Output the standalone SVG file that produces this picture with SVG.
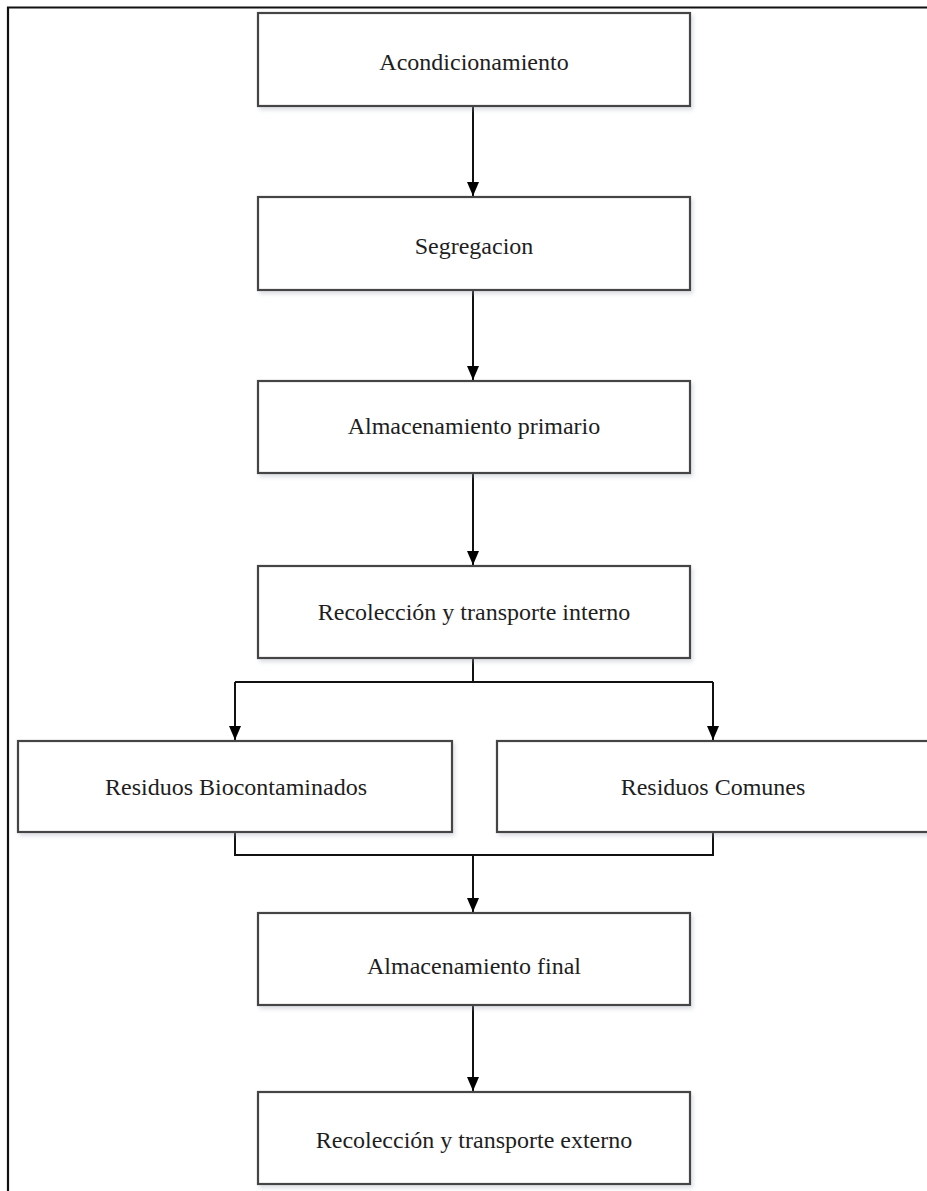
<svg xmlns="http://www.w3.org/2000/svg" width="927" height="1191" viewBox="0 0 927 1191">
<defs>
<style>
.box{fill:#fff;stroke:#444;stroke-width:2.2;filter:url(#sh)}
.lbl{font-family:"Liberation Serif","Times New Roman",serif;font-size:24px;fill:#1e1e1e;text-anchor:middle}
.con{fill:none;stroke:#111;stroke-width:2}
</style>
<filter id="sh" x="-5%" y="-10%" width="115%" height="130%">
<feDropShadow dx="2" dy="3" stdDeviation="2" flood-color="#9aa4b0" flood-opacity="0.35"/>
</filter>
<marker id="arrd" viewBox="0 0 14 12" refX="14" refY="6" markerWidth="14" markerHeight="12" markerUnits="userSpaceOnUse" orient="auto">
<path d="M0,0 L14,6 L0,12 Z" fill="#000"/>
</marker>
</defs>
<rect width="927" height="1191" fill="#fff"/>
<path d="M8,1191 V7.5 H927" fill="none" stroke="#111" stroke-width="2.2"/>
<g id="connectors">
<path class="con" d="M473,106 V196" marker-end="url(#arrd)"/>
<path class="con" d="M473,290 V380" marker-end="url(#arrd)"/>
<path class="con" d="M473,473 V565" marker-end="url(#arrd)"/>
<path class="con" d="M473,658 V682 M235,682 H713"/>
<path class="con" d="M235,682 V740" marker-end="url(#arrd)"/>
<path class="con" d="M713,682 V740" marker-end="url(#arrd)"/>
<path class="con" d="M235,832 V855 H713 V832"/>
<path class="con" d="M473,855 V912" marker-end="url(#arrd)"/>
<path class="con" d="M473,1005 V1091" marker-end="url(#arrd)"/>
</g>
<g id="n1"><rect class="box" x="258" y="13" width="432" height="93"/><text class="lbl" x="474" y="70">Acondicionamiento</text></g>
<g id="n2"><rect class="box" x="258" y="197" width="432" height="93"/><text class="lbl" x="474" y="254">Segregacion</text></g>
<g id="n3"><rect class="box" x="258" y="381" width="432" height="92"/><text class="lbl" x="474" y="434">Almacenamiento primario</text></g>
<g id="n4"><rect class="box" x="258" y="566" width="432" height="92"/><text class="lbl" x="474" y="620">Recolección y transporte interno</text></g>
<g id="n5"><rect class="box" x="18" y="741" width="434" height="91"/><text class="lbl" x="236" y="795">Residuos Biocontaminados</text></g>
<g id="n6"><rect class="box" x="497" y="741" width="450" height="91"/><text class="lbl" x="713" y="795">Residuos Comunes</text></g>
<g id="n7"><rect class="box" x="258" y="913" width="432" height="92"/><text class="lbl" x="474" y="974">Almacenamiento final</text></g>
<g id="n8"><rect class="box" x="258" y="1092" width="432" height="92"/><text class="lbl" x="474" y="1148">Recolección y transporte externo</text></g>
</svg>
